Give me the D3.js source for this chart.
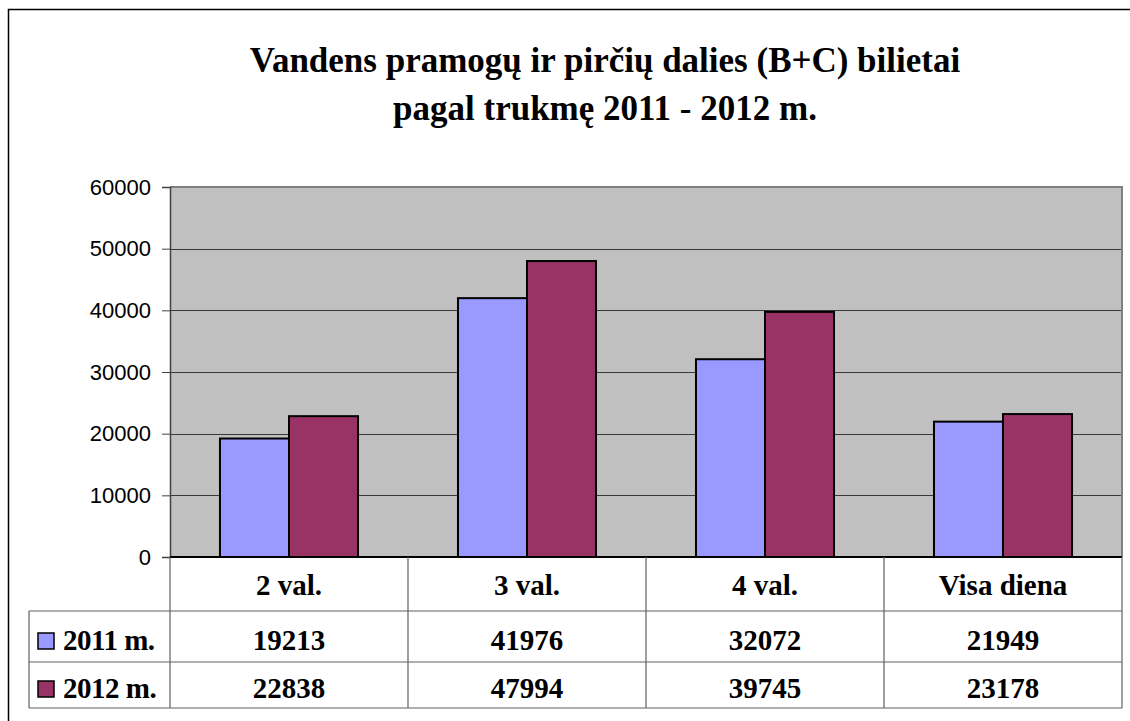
<!DOCTYPE html>
<html>
<head>
<meta charset="utf-8">
<script src="https://cdn.jsdelivr.net/npm/d3@7"></script>
<style>
  body { margin: 0; background: #fff; }
  svg { display: block; }
</style>
</head>
<body>
<div id="chart"></div>
<script>
// data
const categories = ["2 val.", "3 val.", "4 val.", "Visa diena"];
const seriesNames = ["2011 m.", "2012 m."];
const values2011 = [19213, 41976, 32072, 21949];
const values2012 = [22838, 47994, 39745, 23178];
const yTicks = [0, 10000, 20000, 30000, 40000, 50000, 60000];
const colors = ["#9999FF", "#993366"];

const width = 1130, height = 721;
const plot = { left: 170, right: 1122, top: 187, bottom: 557 };
const rowH = [54, 51, 46]; // category row, 2011 row, 2012 row
const legendLeft = 29;

const svg = d3.select("#chart").append("svg")
  .attr("width", width).attr("height", height);

// outer frame (runs off the page on right and bottom)
svg.append("rect")
  .attr("x", 8.5).attr("y", 9.5)
  .attr("width", 1140).attr("height", 740)
  .attr("fill", "#fff").attr("stroke", "#000").attr("stroke-width", 1.5);

// title
const title = svg.append("text")
  .attr("text-anchor", "middle")
  .style("font-family", "'Liberation Serif', 'Times New Roman', serif")
  .style("font-weight", "bold")
  .style("font-size", "35px");
title.append("tspan").attr("x", 605).attr("y", 72)
  .text("Vandens pramogų ir pirčių dalies (B+C) bilietai");
title.append("tspan").attr("x", 605).attr("y", 120)
  .text("pagal trukmę 2011 - 2012 m.");

// scales
const y = d3.scaleLinear().domain([0, 60000]).range([plot.bottom, plot.top]);
const x = d3.scaleBand().domain(categories).range([plot.left, plot.right]).padding(0);
const xs = d3.scaleBand().domain(seriesNames)
  .range([x.bandwidth() * 0.21, x.bandwidth() * 0.79]).padding(0);

// plot background
svg.append("rect")
  .attr("x", plot.left).attr("y", plot.top)
  .attr("width", plot.right - plot.left).attr("height", plot.bottom - plot.top)
  .attr("fill", "#C0C0C0");

// gridlines
svg.append("g")
  .selectAll("line").data(yTicks.filter(d => d > 0 && d < 60000)).join("line")
  .attr("x1", plot.left).attr("x2", plot.right)
  .attr("y1", d => Math.round(y(d)) + 0.5).attr("y2", d => Math.round(y(d)) + 0.5)
  .attr("stroke", "#3a3a3a").attr("stroke-width", 1);

// plot border top/right
svg.append("path")
  .attr("d", `M${plot.left},${plot.top} H${plot.right} V${plot.bottom}`)
  .attr("fill", "none").attr("stroke", "#808080").attr("stroke-width", 2);

// y axis
const yAxis = svg.append("g")
  .attr("transform", `translate(${plot.left},0)`)
  .call(d3.axisLeft(y).tickValues(yTicks).tickSize(8).tickPadding(11).tickFormat(d3.format("d")));
yAxis.select(".domain").attr("stroke", "#404040").attr("stroke-width", 1.5);
yAxis.selectAll(".tick line").attr("stroke", "#404040");
yAxis.selectAll(".tick text")
  .style("font-family", "'Liberation Sans', Arial, sans-serif")
  .style("font-size", "22px")
  .attr("fill", "#000");

// bars
const data = categories.map((c, i) => ({ cat: c, vals: [values2011[i], values2012[i]] }));
const groups = svg.append("g").selectAll("g").data(data).join("g")
  .attr("transform", d => `translate(${x(d.cat)},0)`);
groups.selectAll("rect")
  .data(d => d.vals.map((v, j) => ({ s: seriesNames[j], v, j })))
  .join("rect")
  .attr("x", d => xs(d.s))
  .attr("y", d => y(d.v))
  .attr("width", xs.bandwidth())
  .attr("height", d => y(0) - y(d.v))
  .attr("fill", d => colors[d.j])
  .attr("stroke", "#000").attr("stroke-width", 2);

// x axis line
svg.append("line")
  .attr("x1", plot.left).attr("x2", plot.right)
  .attr("y1", plot.bottom).attr("y2", plot.bottom)
  .attr("stroke", "#000").attr("stroke-width", 2);

// data table
const rowTop = [plot.bottom, plot.bottom + rowH[0], plot.bottom + rowH[0] + rowH[1]];
const tableBottom = rowTop[2] + rowH[2];
const grid = svg.append("g").attr("stroke", "#606060").attr("stroke-width", 1.2);
// verticals
[plot.left, ...categories.map(c => x(c) + x.bandwidth())].forEach(px => {
  grid.append("line").attr("x1", px).attr("x2", px)
    .attr("y1", plot.bottom).attr("y2", tableBottom);
});
grid.append("line").attr("x1", legendLeft).attr("x2", legendLeft)
  .attr("y1", rowTop[1]).attr("y2", tableBottom);
[rowTop[1], rowTop[2], tableBottom].forEach(py => {
  grid.append("line").attr("x1", legendLeft).attr("x2", plot.right)
    .attr("y1", py).attr("y2", py);
});

const serif = "'Liberation Serif', 'Times New Roman', serif";
svg.append("g").selectAll("text").data(categories).join("text")
  .attr("x", d => x(d) + x.bandwidth() / 2)
  .attr("y", rowTop[0] + 38)
  .attr("text-anchor", "middle")
  .style("font-family", serif).style("font-weight", "bold").style("font-size", "29px")
  .text(d => d);

[values2011, values2012].forEach((vals, j) => {
  const base = rowTop[j + 1] + (j === 0 ? 39 : 36);
  svg.append("g").selectAll("text").data(vals).join("text")
    .attr("x", (d, i) => x(categories[i]) + x.bandwidth() / 2)
    .attr("y", base)
    .attr("text-anchor", "middle")
    .style("font-family", serif).style("font-weight", "bold").style("font-size", "29px")
    .text(d => d);
  // legend key
  svg.append("rect")
    .attr("x", 38).attr("y", base - 17)
    .attr("width", 16).attr("height", 16)
    .attr("fill", colors[j]).attr("stroke", "#000").attr("stroke-width", 1.5);
  svg.append("text")
    .attr("x", 63).attr("y", base)
    .style("font-family", serif).style("font-weight", "bold").style("font-size", "29px")
    .style("letter-spacing", "-0.5px")
    .text(seriesNames[j]);
});
</script>
</body>
</html>
